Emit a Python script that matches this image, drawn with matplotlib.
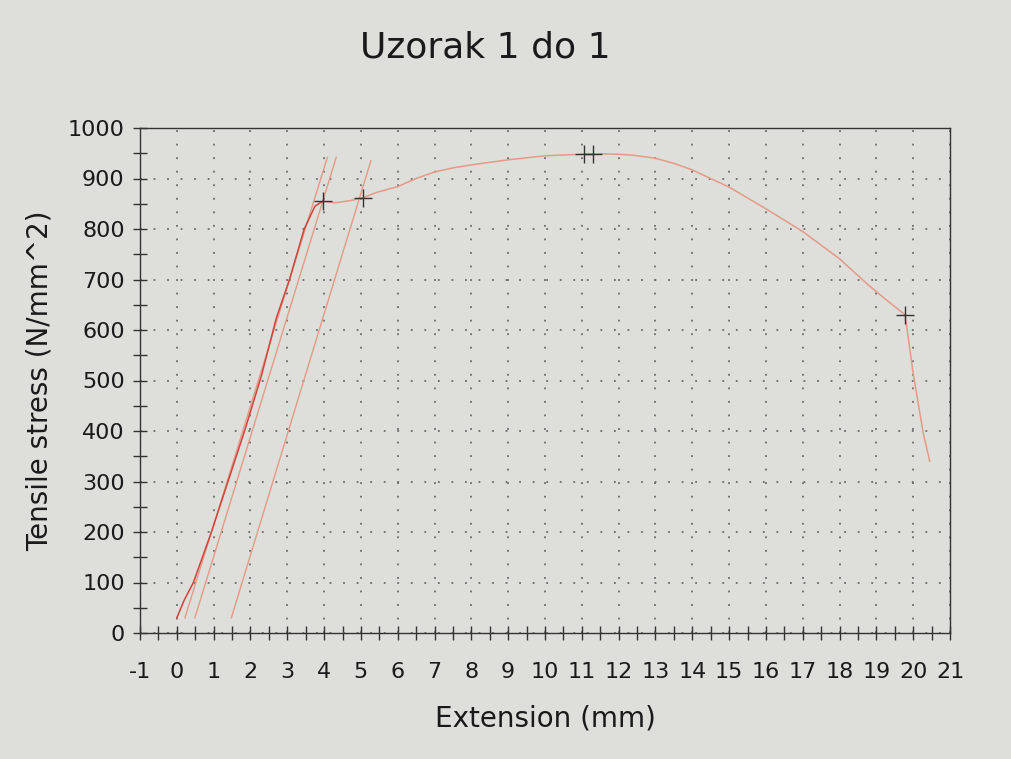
import numpy as np
import matplotlib
matplotlib.use("Agg")
import matplotlib.pyplot as plt
from matplotlib.ticker import MultipleLocator

plt.rcParams['axes.unicode_minus'] = False

# tensile test curve (extension mm, stress N/mm^2)
ext = [0, 0.2, 0.45, 0.94, 1.39, 1.84, 2.3, 2.7, 3.06, 3.46, 3.75, 3.96,
       4.3, 4.7, 5.05, 5.45, 6, 6.5, 7, 7.5, 8, 9, 10, 11, 11.5, 12, 12.4,
       13, 13.5, 14, 15, 16, 17, 18, 18.8, 19.3, 19.78, 20.0, 20.27, 20.45]
stress = [30, 65, 100, 200, 300, 400, 510, 623, 700, 800, 845, 855,
          852, 856, 862, 873, 884, 900, 913, 921, 927, 937, 945, 948, 949, 948, 946,
          940, 930, 917, 883, 840, 795, 741, 688, 658, 630, 514, 397, 340]

# offset modulus lines (start, end)
off_x = [[0.22, 4.09], [0.49, 4.33], [1.48, 5.27]]
off_y = [[30, 942], [30, 942], [30, 935]]

# marked points
mark_x = [3.96, 5.05, 11.05, 11.3, 19.78]
mark_y = [855, 862, 948, 948, 630]

paper = '#dededa'
fig = plt.figure(figsize=(10.11, 7.59), dpi=100, facecolor=paper)
ax = fig.add_axes([140/1011, 1-633/759, 810/1011, 505/759])
ax.set_facecolor(paper)

for xs, ys in zip(off_x, off_y):
    ax.plot(xs, ys, color='#e49a86', lw=1.0)
n_el = 12
ax.plot(ext[:n_el], stress[:n_el], color='#d0453a', lw=1.1)
ax.plot(ext[n_el-1:], stress[n_el-1:], color='#e59a88', lw=1.1)
ax.plot(mark_x, mark_y, '+', color='#333333', ms=13, mew=1.0)

ax.set_xlim(-1, 21)
ax.set_ylim(0, 1000)
ax.xaxis.set_major_locator(MultipleLocator(1))
ax.xaxis.set_minor_locator(MultipleLocator(0.5))
ax.yaxis.set_major_locator(MultipleLocator(100))
ax.yaxis.set_minor_locator(MultipleLocator(50))

ax.grid(True, which='major', color='#6a6a6a', lw=1.3, linestyle=(0, (1, 6.5)))
ax.tick_params(which='both', direction='inout', length=10, width=1, color='#333333',
               labelsize=16, labelcolor='#1a1a1a')
ax.tick_params(axis='x', which='both', pad=16)
ax.tick_params(axis='y', which='both', pad=6)
for s in ax.spines.values():
    s.set_color('#333333')
    s.set_linewidth(1.0)

fig.text(485/1011, 1-48/759, 'Uzorak 1 do 1', fontsize=26, color='#1a1a1a',
         ha='center', va='center')
ax.set_xlabel('Extension (mm)', fontsize=20, color='#1a1a1a', labelpad=16)
ax.set_ylabel('Tensile stress (N/mm^2)', fontsize=20, color='#1a1a1a', labelpad=10)

fig.savefig('out.png', dpi=100, facecolor=paper)
